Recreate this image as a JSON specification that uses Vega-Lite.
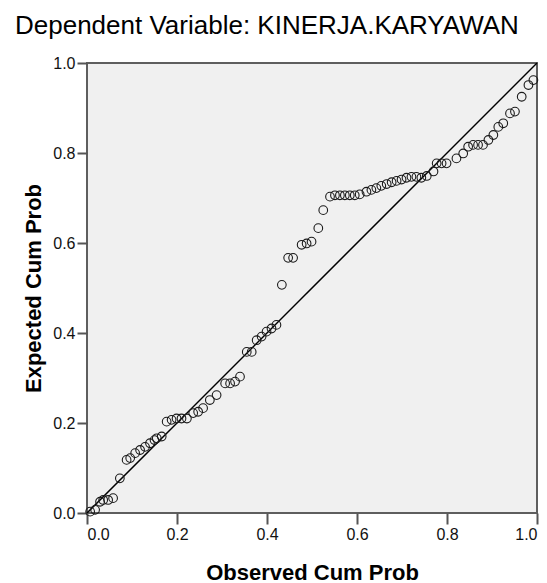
{
  "$schema": "https://vega.github.io/schema/vega-lite/v6.json",
  "autosize": "none",
  "width": 450,
  "height": 450,
  "padding": {"left": 87, "top": 63, "right": 10, "bottom": 70},
  "background": "white",
  "title": {
    "text": "Dependent Variable: KINERJA.KARYAWAN",
    "anchor": "start",
    "frame": "group",
    "dx": -72,
    "dy": 26,
    "offset": 21,
    "baseline": "alphabetic",
    "font": "Liberation Sans",
    "fontSize": 26,
    "fontWeight": "normal",
    "color": "#000000"
  },
  "config": {
    "view": {"stroke": "#5e5e5e", "strokeWidth": 2, "fill": "#f0f0f0"},
    "axis": {
      "grid": false,
      "domain": false,
      "tickColor": "#555555",
      "tickWidth": 2,
      "labelFont": "Liberation Sans",
      "labelFontSize": 16,
      "labelColor": "#111111",
      "titleFont": "Liberation Sans",
      "titleFontSize": 22,
      "titleFontWeight": "bold",
      "titleColor": "#000000"
    }
  },
  "layer": [
    {
      "data": {"values": [{"x": 0, "y": 0}, {"x": 1, "y": 1}]},
      "mark": {"type": "line", "color": "#000000", "strokeWidth": 1.5},
      "encoding": {
        "x": {"field": "x", "type": "quantitative"},
        "y": {"field": "y", "type": "quantitative"}
      }
    },
    {
      "data": {"values": [
        {"obs": 0.007, "exp": 0.003},
        {"obs": 0.018, "exp": 0.007},
        {"obs": 0.029, "exp": 0.025},
        {"obs": 0.036, "exp": 0.029},
        {"obs": 0.047, "exp": 0.029},
        {"obs": 0.058, "exp": 0.033},
        {"obs": 0.073, "exp": 0.077},
        {"obs": 0.088, "exp": 0.118},
        {"obs": 0.096, "exp": 0.122},
        {"obs": 0.107, "exp": 0.133},
        {"obs": 0.118, "exp": 0.140},
        {"obs": 0.129, "exp": 0.147},
        {"obs": 0.140, "exp": 0.155},
        {"obs": 0.150, "exp": 0.162},
        {"obs": 0.155, "exp": 0.166},
        {"obs": 0.166, "exp": 0.170},
        {"obs": 0.177, "exp": 0.203},
        {"obs": 0.188, "exp": 0.207},
        {"obs": 0.199, "exp": 0.210},
        {"obs": 0.210, "exp": 0.210},
        {"obs": 0.222, "exp": 0.210},
        {"obs": 0.236, "exp": 0.222},
        {"obs": 0.247, "exp": 0.225},
        {"obs": 0.258, "exp": 0.233},
        {"obs": 0.273, "exp": 0.251},
        {"obs": 0.288, "exp": 0.262},
        {"obs": 0.307, "exp": 0.288},
        {"obs": 0.318, "exp": 0.288},
        {"obs": 0.329, "exp": 0.292},
        {"obs": 0.340, "exp": 0.303},
        {"obs": 0.355, "exp": 0.358},
        {"obs": 0.366, "exp": 0.358},
        {"obs": 0.377, "exp": 0.384},
        {"obs": 0.388, "exp": 0.392},
        {"obs": 0.399, "exp": 0.403},
        {"obs": 0.410, "exp": 0.410},
        {"obs": 0.421, "exp": 0.418},
        {"obs": 0.433, "exp": 0.507},
        {"obs": 0.447, "exp": 0.567},
        {"obs": 0.458, "exp": 0.567},
        {"obs": 0.477, "exp": 0.596},
        {"obs": 0.488, "exp": 0.599},
        {"obs": 0.499, "exp": 0.603},
        {"obs": 0.514, "exp": 0.633},
        {"obs": 0.525, "exp": 0.673},
        {"obs": 0.540, "exp": 0.703},
        {"obs": 0.551, "exp": 0.706},
        {"obs": 0.562, "exp": 0.706},
        {"obs": 0.573, "exp": 0.706},
        {"obs": 0.584, "exp": 0.706},
        {"obs": 0.595, "exp": 0.706},
        {"obs": 0.606, "exp": 0.708},
        {"obs": 0.621, "exp": 0.714},
        {"obs": 0.632, "exp": 0.718},
        {"obs": 0.643, "exp": 0.722},
        {"obs": 0.654, "exp": 0.727},
        {"obs": 0.666, "exp": 0.731},
        {"obs": 0.677, "exp": 0.735},
        {"obs": 0.688, "exp": 0.738},
        {"obs": 0.699, "exp": 0.741},
        {"obs": 0.710, "exp": 0.745},
        {"obs": 0.721, "exp": 0.747},
        {"obs": 0.732, "exp": 0.747},
        {"obs": 0.743, "exp": 0.745},
        {"obs": 0.755, "exp": 0.749},
        {"obs": 0.770, "exp": 0.759},
        {"obs": 0.777, "exp": 0.777},
        {"obs": 0.788, "exp": 0.777},
        {"obs": 0.799, "exp": 0.777},
        {"obs": 0.821, "exp": 0.788},
        {"obs": 0.836, "exp": 0.799},
        {"obs": 0.847, "exp": 0.814},
        {"obs": 0.858, "exp": 0.818},
        {"obs": 0.869, "exp": 0.818},
        {"obs": 0.880, "exp": 0.818},
        {"obs": 0.892, "exp": 0.829},
        {"obs": 0.903, "exp": 0.840},
        {"obs": 0.914, "exp": 0.858},
        {"obs": 0.925, "exp": 0.866},
        {"obs": 0.940, "exp": 0.888},
        {"obs": 0.951, "exp": 0.892},
        {"obs": 0.966, "exp": 0.925},
        {"obs": 0.981, "exp": 0.951},
        {"obs": 0.992, "exp": 0.962}
      ]},
      "mark": {"type": "point", "shape": "circle", "filled": false, "stroke": "#1a1a1a", "strokeWidth": 1.1, "size": 75, "opacity": 1},
      "encoding": {
        "x": {
          "field": "obs", "type": "quantitative",
          "scale": {"domain": [0, 1], "nice": false, "zero": false},
          "axis": {"values": [0, 0.2, 0.4, 0.6, 0.8, 1.0], "format": ".1f", "title": "Observed Cum Prob", "tickSize": 11, "labelPadding": 2, "titleY": 59, "titleBaseline": "middle"}
        },
        "y": {
          "field": "exp", "type": "quantitative",
          "scale": {"domain": [0, 1], "nice": false, "zero": false},
          "axis": {"values": [0, 0.2, 0.4, 0.6, 0.8, 1.0], "format": ".1f", "title": "Expected Cum Prob", "tickSize": 10, "labelPadding": 2, "titleX": -54, "titleY": 225, "titleAngle": -90, "titleBaseline": "middle", "titleAlign": "center"}
        }
      }
    }
  ]
}
